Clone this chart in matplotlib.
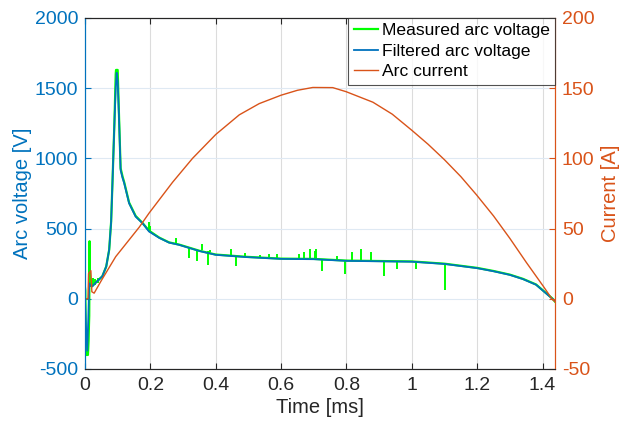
import matplotlib
matplotlib.use("Agg")
import matplotlib.pyplot as plt

plt.rcParams['font.family'] = ['Liberation Sans', 'DejaVu Sans']
plt.rcParams['axes.unicode_minus'] = False

# Filtered arc voltage [V]
filt_t = [0, 0.003, 0.007, 0.01, 0.013, 0.016, 0.022, 0.035, 0.053, 0.065, 0.074, 0.08, 0.084,
          0.09, 0.094, 0.097, 0.1, 0.104, 0.109, 0.115, 0.12, 0.135, 0.155, 0.176, 0.196, 0.227,
          0.257, 0.288, 0.35, 0.4, 0.493, 0.6, 0.7, 0.8, 0.9, 1.0, 1.1, 1.2, 1.25, 1.3, 1.34, 1.38,
          1.41, 1.43, 1.438]
filt_v = [0, -200, -370, -150, 110, 95, 88, 120, 160, 230, 349, 550, 823,
          1250, 1500, 1610, 1550, 1297, 917, 860, 823, 680, 585, 538, 479, 434,
          400, 384, 340, 313, 297, 284, 282, 270, 267, 264, 248, 218, 196, 170, 140, 100,
          40, 0, -15]

# Measured arc voltage [V] (base trace)
meas_t = [0, 0.001, 0.003, 0.006, 0.009, 0.011, 0.012, 0.013, 0.014, 0.015, 0.017, 0.022,
          0.035, 0.053, 0.065, 0.074, 0.08, 0.084, 0.09, 0.094, 0.095, 0.1, 0.104, 0.109,
          0.115, 0.12, 0.135, 0.155, 0.176, 0.196, 0.227, 0.257, 0.288, 0.35, 0.4, 0.493, 0.6,
          0.7, 0.8, 0.9, 1.0, 1.1, 1.2, 1.25, 1.3, 1.34, 1.38, 1.41, 1.43, 1.438]
meas_v = [80, 60, -400, -400, -400, -300, -200, -120, 410, 100, 95, 90,
          120, 160, 230, 349, 550, 823, 1250, 1600, 1630, 1630, 1310, 930,
          870, 830, 685, 590, 540, 485, 436, 402, 386, 342, 315, 299, 286,
          284, 272, 269, 266, 250, 220, 198, 172, 142, 102, 42, 2, -20]

# Spikes in the measured voltage: time, base, tip
spike_t = [0.025, 0.03, 0.04, 0.196, 0.2, 0.278, 0.319, 0.344, 0.358, 0.375, 0.383, 0.447,
           0.462, 0.49, 0.535, 0.563, 0.588, 0.656, 0.67, 0.687, 0.704, 0.707, 0.725, 0.77,
           0.794, 0.817, 0.845, 0.876, 0.914, 0.954, 1.012, 1.10]
spike_base = [95, 100, 110, 490, 480, 398, 362, 352, 348, 338, 333, 305,
              303, 298, 292, 290, 287, 284, 284, 284, 283, 282, 281, 276,
              271, 270, 269, 268, 267, 266, 264, 248]
spike_tip = [150, 140, 150, 548, 520, 433, 289, 268, 391, 242, 348, 353,
             235, 327, 313, 316, 320, 320, 330, 355, 340, 355, 195, 303,
             176, 332, 356, 332, 159, 211, 211, 59]

# Arc current [A]
cur_t = [0, 0.009, 0.011, 0.018, 0.021, 0.028, 0.05, 0.094, 0.166, 0.196, 0.268, 0.329, 0.4,
         0.472, 0.533, 0.6, 0.65, 0.697, 0.758, 0.799, 0.881, 0.94, 1.0, 1.05, 1.1, 1.15,
         1.198, 1.25, 1.3, 1.35, 1.402, 1.43, 1.438]
cur_i = [0, 0, 18, 20, 5, 4, 13, 30, 51, 61, 83, 100, 117,
         131, 139, 145, 148.5, 150.5, 150.4, 147.5, 140, 131.5, 120, 110, 99, 87,
         74, 59, 43, 26, 9, -0.5, -2]

xticks = [0, 0.2, 0.4, 0.6, 0.8, 1, 1.2, 1.4]
xticklabels = ['0', '0.2', '0.4', '0.6', '0.8', '1', '1.2', '1.4']
vticks = [-500, 0, 500, 1000, 1500, 2000]
iticks = [-50, 0, 50, 100, 150, 200]

BLUE = '#0072BD'
ORANGE = '#D95319'
GREEN = '#00FF00'

fig = plt.figure(figsize=(6.24, 4.25), dpi=100)
ax = fig.add_axes([0.1362, 0.1318, 0.7532, 0.8259])
ax2 = ax.twinx()

lm, = ax.plot(meas_t, meas_v, color=GREEN, lw=1.6, label='Measured arc voltage', zorder=3)
ax.vlines(spike_t, spike_base, spike_tip, color=GREEN, lw=1.4, zorder=3)
lf, = ax.plot(filt_t, filt_v, color=BLUE, lw=1.3, label='Filtered arc voltage', zorder=4)
lc, = ax2.plot(cur_t, cur_i, color=ORANGE, lw=1.0, label='Arc current')

ax.set_xlim(0, 1.438)
ax.set_ylim(-500, 2000)
ax2.set_ylim(-50, 200)
ax.set_xticks(xticks)
ax.set_xticklabels(xticklabels)
ax.set_yticks(vticks)
ax2.set_yticks(iticks)

ax.grid(True, axis='x', color='#dcdcdc', lw=0.8)
ax.grid(True, axis='y', color='#dfe9f3', lw=0.8)
ax.set_axisbelow(True)

ax.tick_params(axis='x', direction='in', top=True, labelsize=14, colors='#262626', length=4, pad=6)
ax.tick_params(axis='y', direction='in', labelsize=14, colors=BLUE, length=4, pad=5)
ax2.tick_params(axis='y', direction='in', labelsize=14, colors=ORANGE, length=4, pad=5)

for a in (ax, ax2):
    a.spines['top'].set_color('#262626')
    a.spines['bottom'].set_color('#262626')
    a.spines['left'].set_color(BLUE)
    a.spines['right'].set_color(ORANGE)

ax.set_xlabel('Time [ms]', fontsize=14.5, color='#262626', labelpad=3)
ax.set_ylabel('Arc voltage [V]', fontsize=14.5, color=BLUE, labelpad=2)
ax2.set_ylabel('Current [A]', fontsize=14.5, color=ORANGE, labelpad=5)

leg = ax2.legend(handles=[lm, lf, lc], loc='upper right', fontsize=12.6, frameon=True,
                 fancybox=False, borderaxespad=0, handlelength=1.4, handletextpad=0.2,
                 labelspacing=0.3, borderpad=0.3)
leg.get_frame().set_edgecolor('#262626')
leg.get_frame().set_linewidth(0.8)

fig.savefig('out.png', dpi=100)
